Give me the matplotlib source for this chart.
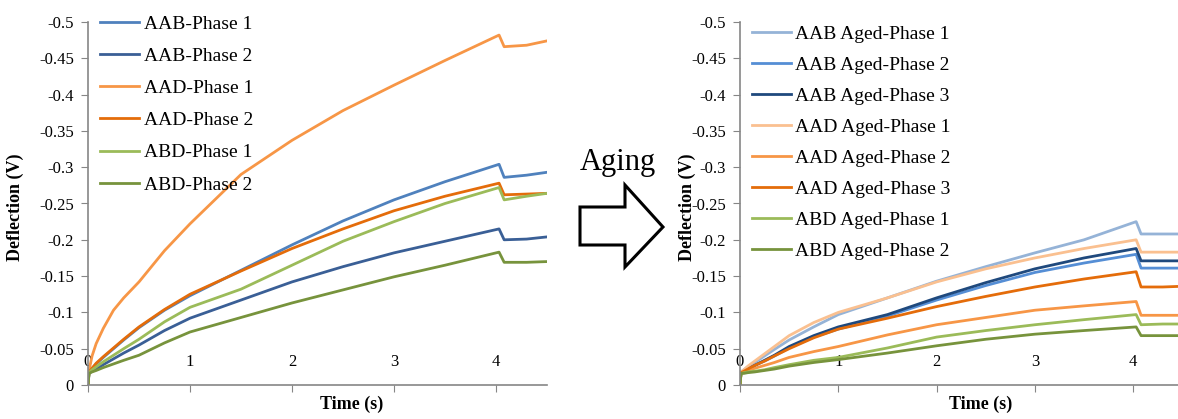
import matplotlib
matplotlib.use("Agg")
import matplotlib.pyplot as plt
from matplotlib.patches import Polygon

plt.rcParams['font.family'] = ['Liberation Serif', 'DejaVu Serif']

# ---------------- data ----------------
time_s = [0, 0.01, 0.04, 0.08, 0.15, 0.25, 0.35, 0.5, 0.75, 1.0, 1.5, 2.0, 2.5, 3.0, 3.5, 4.03, 4.08, 4.3, 4.5]

left_labels = ["AAB-Phase 1", "AAB-Phase 2", "AAD-Phase 1", "AAD-Phase 2", "ABD-Phase 1", "ABD-Phase 2"]
left_colors = ["#4F81BD", "#3A5F96", "#F79646", "#E46C0A", "#9BBB59", "#77933C"]
aab_p1 = [0, -0.018, -0.023, -0.029, -0.038, -0.05, -0.062, -0.079, -0.103, -0.123, -0.158, -0.193, -0.226, -0.255, -0.28, -0.304, -0.286, -0.289, -0.293]
aab_p2 = [0, -0.016, -0.019, -0.022, -0.028, -0.036, -0.044, -0.055, -0.075, -0.092, -0.117, -0.142, -0.163, -0.182, -0.198, -0.215, -0.2, -0.201, -0.204]
aad_p1 = [0, -0.02, -0.04, -0.057, -0.078, -0.103, -0.12, -0.142, -0.185, -0.222, -0.29, -0.337, -0.378, -0.413, -0.447, -0.482, -0.466, -0.468, -0.474]
aad_p2 = [0, -0.018, -0.023, -0.03, -0.039, -0.051, -0.063, -0.08, -0.104, -0.125, -0.157, -0.188, -0.215, -0.24, -0.26, -0.278, -0.262, -0.263, -0.264]
abd_p1 = [0, -0.017, -0.021, -0.025, -0.032, -0.041, -0.05, -0.063, -0.087, -0.107, -0.132, -0.165, -0.198, -0.225, -0.25, -0.272, -0.255, -0.26, -0.264]
abd_p2 = [0, -0.016, -0.018, -0.02, -0.024, -0.029, -0.034, -0.041, -0.058, -0.073, -0.093, -0.113, -0.131, -0.149, -0.165, -0.183, -0.169, -0.169, -0.17]
left_series = [aab_p1, aab_p2, aad_p1, aad_p2, abd_p1, abd_p2]

right_labels = ["AAB Aged-Phase 1", "AAB Aged-Phase 2", "AAB Aged-Phase 3",
                "AAD Aged-Phase 1", "AAD Aged-Phase 2", "AAD Aged-Phase 3",
                "ABD Aged-Phase 1", "ABD Aged-Phase 2"]
right_colors = ["#95B3D7", "#558ED5", "#1F497D", "#FAC090", "#F79646", "#E46C0A", "#9BBB59", "#77933C"]
aab_a1 = [0, -0.018, -0.021, -0.025, -0.031, -0.04, -0.049, -0.062, -0.08, -0.097, -0.12, -0.143, -0.163, -0.182, -0.2, -0.225, -0.208, -0.208, -0.208]
aab_a2 = [0, -0.017, -0.019, -0.022, -0.027, -0.033, -0.04, -0.051, -0.066, -0.077, -0.095, -0.117, -0.137, -0.155, -0.168, -0.18, -0.161, -0.161, -0.161]
aab_a3 = [0, -0.017, -0.019, -0.022, -0.027, -0.034, -0.041, -0.053, -0.068, -0.08, -0.097, -0.12, -0.141, -0.16, -0.175, -0.188, -0.171, -0.171, -0.171]
aad_a1 = [0, -0.018, -0.021, -0.026, -0.033, -0.043, -0.053, -0.068, -0.086, -0.1, -0.12, -0.142, -0.16, -0.175, -0.188, -0.2, -0.183, -0.183, -0.183]
aad_a2 = [0, -0.016, -0.018, -0.02, -0.023, -0.027, -0.031, -0.038, -0.046, -0.053, -0.069, -0.083, -0.093, -0.103, -0.109, -0.115, -0.096, -0.096, -0.096]
aad_a3 = [0, -0.017, -0.019, -0.022, -0.027, -0.033, -0.04, -0.05, -0.065, -0.077, -0.092, -0.108, -0.122, -0.135, -0.146, -0.156, -0.135, -0.135, -0.136]
abd_a1 = [0, -0.016, -0.017, -0.018, -0.019, -0.021, -0.024, -0.028, -0.034, -0.038, -0.051, -0.066, -0.075, -0.083, -0.09, -0.097, -0.083, -0.084, -0.084]
abd_a2 = [0, -0.016, -0.016, -0.017, -0.018, -0.02, -0.022, -0.026, -0.031, -0.035, -0.044, -0.054, -0.063, -0.07, -0.075, -0.08, -0.068, -0.068, -0.068]
right_series = [aab_a1, aab_a2, aab_a3, aad_a1, aad_a2, aad_a3, abd_a1, abd_a2]

y_ticks = [0, -0.05, -0.1, -0.15, -0.2, -0.25, -0.3, -0.35, -0.4, -0.45, -0.5]
y_ticklabels = ["0", "-0.05", "-0.1", "-0.15", "-0.2", "-0.25", "-0.3", "-0.35", "-0.4", "-0.45", "-0.5"]
x_ticks = [0, 1, 2, 3, 4]
x_ticklabels = ["0", "1", "2", "3", "4"]

# ---------------- figure ----------------
W, H = 1178, 419
fig = plt.figure(figsize=(W / 100, H / 100), dpi=100)

def px_axes(x0, x1, ytop, ybot):
    return fig.add_axes([x0 / W, (H - ybot) / H, (x1 - x0) / W, (ybot - ytop) / H])

axL = px_axes(88, 88 + 4.5 * 102, 22, 385)
axR = px_axes(740, 740 + 4.5 * 98.3, 22, 385)

def style(ax, xlab_x, ylab_x):
    ax.set_xlim(0, 4.5)
    ax.set_ylim(0, -0.5)
    ax.set_yticks(y_ticks)
    ax.set_yticklabels(y_ticklabels)
    ax.set_xticks(x_ticks)
    ax.set_xticklabels(x_ticklabels)
    for s in ['top', 'right']:
        ax.spines[s].set_visible(False)
    for s in ['left', 'bottom']:
        ax.spines[s].set_color('#868686')
        ax.spines[s].set_linewidth(1.2)
    ax.tick_params(axis='y', direction='out', length=5, color='#868686', labelsize=12, pad=5)
    ax.tick_params(axis='x', direction='out', length=5, color='#868686', labelsize=12, pad=-27)
    ax.set_xlabel("Time (s)", fontsize=13, fontweight='bold')
    ax.xaxis.set_label_coords(xlab_x, -0.03)
    ax.set_ylabel("Deflection (V)", fontsize=13, fontweight='bold')
    ax.yaxis.set_label_coords(ylab_x, 0.49)
    ax.patch.set_alpha(0)

for lab, col, ser in zip(left_labels, left_colors, left_series):
    axL.plot(time_s, ser, color=col, lw=2.0, label=lab)
style(axL, 0.575, -0.14)
axL.legend(loc='upper left', bbox_to_anchor=(100 / W, 1 - 15 / H), bbox_transform=fig.transFigure,
           frameon=False, fontsize=14, handlelength=2.0, handletextpad=0.25, labelspacing=0.75,
           borderaxespad=0, borderpad=0)

for lab, col, ser in zip(right_labels, right_colors, right_series):
    axR.plot(time_s, ser, color=col, lw=2.0, label=lab)
style(axR, 0.545, -0.1)
axR.legend(loc='upper left', bbox_to_anchor=(752 / W, 1 - 25 / H), bbox_transform=fig.transFigure,
           frameon=False, fontsize=14, handlelength=2.0, handletextpad=0.2, labelspacing=0.69,
           borderaxespad=0, borderpad=0)

# "Aging" arrow annotation
fig.text(618 / W, 1 - 162 / H, "Aging", fontsize=22, ha='center', va='center')
arrow_px = [(580, 207), (625, 207), (625, 185), (663, 227), (625, 267), (625, 245), (580, 245)]
arrow = Polygon([(x / W, 1 - y / H) for x, y in arrow_px], closed=True,
                facecolor='white', edgecolor='black', lw=2.2, transform=fig.transFigure)
fig.patches.append(arrow)

fig.savefig("out.png", dpi=100)
